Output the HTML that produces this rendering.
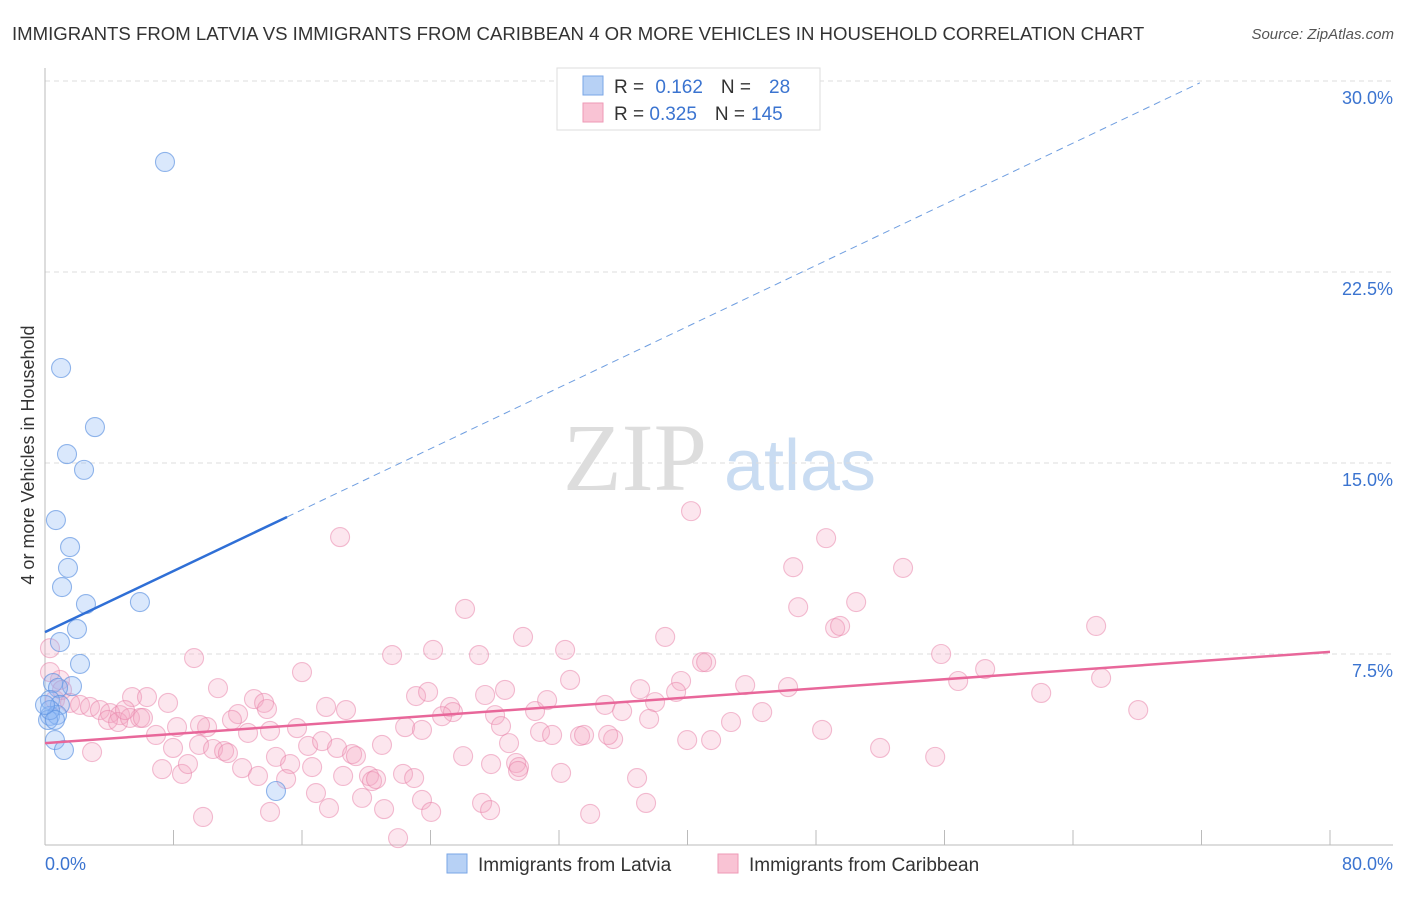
<!DOCTYPE html>
<html><head><meta charset="utf-8"><style>
body{margin:0;background:#fff;font-family:"Liberation Sans",sans-serif}
svg text{font-family:"Liberation Sans",sans-serif}
</style></head><body>
<svg id="c" width="1406" height="892" xmlns="http://www.w3.org/2000/svg">
<text x="12" y="40" font-size="18.6" fill="#333">IMMIGRANTS FROM LATVIA VS IMMIGRANTS FROM CARIBBEAN 4 OR MORE VEHICLES IN HOUSEHOLD CORRELATION CHART</text>
<text x="1394" y="39" font-size="15" fill="#555" font-style="italic" text-anchor="end">Source: ZipAtlas.com</text>
<g>
<text x="635" y="490" font-size="96" fill="#ddd" text-anchor="middle" font-family="Liberation Serif" style="font-family:'Liberation Serif',serif">ZIP</text>
<text x="800" y="490" font-size="72" fill="#c9dcf2" text-anchor="middle">atlas</text>
</g>
<g id="grid"></g><g id="axes"></g><g id="pts"></g><g id="lines"></g>
<g>
<rect x="557" y="68" width="263" height="62" fill="#fff" stroke="#ddd"/>
<rect x="583" y="76" width="20" height="19" fill="#b7d1f5" stroke="#7aa6e6"/>
<rect x="583" y="103" width="20" height="19" fill="#f9c3d4" stroke="#ee9ab6"/>
<text x="614" y="93" font-size="19" fill="#333">R = <tspan fill="#3b74d0" dx="6">0.162</tspan><tspan dx="18" fill="#333">N =</tspan><tspan dx="18" fill="#3b74d0">28</tspan></text>
<text x="614" y="120" font-size="19" fill="#333">R = <tspan fill="#3b74d0">0.325</tspan><tspan dx="18" fill="#333">N =</tspan><tspan dx="6" fill="#3b74d0">145</tspan></text>
</g>
<g>
<rect x="447" y="854" width="20" height="19" fill="#b7d1f5" stroke="#7aa6e6"/>
<text x="478" y="871" font-size="19" fill="#333">Immigrants from Latvia</text>
<rect x="718" y="854" width="20" height="19" fill="#f9c3d4" stroke="#ee9ab6"/>
<text x="749" y="871" font-size="19" fill="#333">Immigrants from Caribbean</text>
</g>
<text transform="translate(34,455) rotate(-90)" font-size="18" fill="#333" text-anchor="middle">4 or more Vehicles in Household</text>
</svg>
<script>
const yTicks=[7.5,15,22.5,30];
const yTickLabels=["7.5%","15.0%","22.5%","30.0%"];
const xTicks=[0,8,16,24,32,40,48,56,64,72,80];
const latviaX=[7.47,1.00,3.11,1.37,2.43,0.68,1.56,1.43,1.06,2.55,5.91,1.99,0.93,2.18,0.50,1.68,0.81,0.31,0.93,0.31,0.75,0.19,0.62,1.18,14.38,0.31,0.62,0.0];
const latviaY=[26.82,18.73,16.41,15.35,14.73,12.76,11.70,10.88,10.13,9.46,9.54,8.48,7.97,7.11,6.36,6.24,6.17,5.69,5.50,5.07,5.11,4.91,4.12,3.73,2.12,5.30,4.91,5.5];
const caribX=[18.37,40.22,48.63,46.58,53.42,26.15,46.89,50.50,49.19,49.50,65.44,29.76,38.61,9.28,21.61,24.16,27.02,32.38,40.91,41.16,55.79,58.53,16.00,10.77,5.42,6.35,7.66,12.02,13.01,13.64,13.82,17.50,18.74,23.10,23.85,25.22,25.40,27.40,28.64,28.02,30.51,31.26,32.69,34.87,35.93,37.05,37.98,39.60,39.29,43.59,46.26,56.85,62.02,65.75,68.06,0.93,0.62,1.06,1.56,2.18,2.80,3.42,4.05,4.67,3.92,4.55,5.29,5.92,4.98,6.10,8.22,6.91,7.97,9.59,10.09,10.46,11.15,11.39,11.64,12.64,14.01,14.38,15.26,15.69,16.38,16.63,17.25,18.18,19.12,19.36,20.98,22.42,23.47,24.72,26.03,28.39,28.89,29.33,29.51,30.82,31.57,33.31,33.56,35.37,35.06,37.61,39.98,41.47,42.71,44.65,48.38,51.99,55.42,7.29,8.53,8.90,12.27,13.26,15.01,16.87,18.56,20.17,20.36,20.61,22.29,22.98,27.77,29.45,32.13,36.86,37.42,17.68,19.74,21.11,23.47,27.21,27.71,9.84,14.01,24.04,33.94,21.98,2.93,0.31,0.31,9.65];
const caribY=[12.09,13.11,12.05,10.91,10.88,9.27,9.34,9.54,8.52,8.60,8.60,8.17,8.17,7.34,7.46,7.66,7.46,7.66,7.18,7.18,7.50,6.91,6.79,6.16,5.81,5.81,5.58,5.14,5.73,5.58,5.34,5.42,5.30,5.85,6.01,5.42,5.22,5.89,6.09,5.10,5.26,5.69,6.48,5.50,5.26,6.12,5.61,6.44,6.01,6.28,6.20,6.44,5.97,6.56,5.30,6.48,5.69,6.09,5.58,5.50,5.42,5.30,5.18,5.10,4.91,4.83,4.99,4.99,5.30,4.99,4.63,4.32,3.81,3.93,4.63,3.77,3.69,3.61,4.91,4.40,4.48,3.46,3.18,4.59,3.89,3.06,4.08,3.81,3.57,3.49,3.93,4.63,4.52,5.06,3.49,4.67,4.00,3.22,3.06,4.44,4.32,4.28,4.32,4.16,4.32,4.95,4.12,4.12,4.83,5.22,4.52,3.81,3.46,2.98,2.79,3.18,3.02,2.71,2.59,2.04,2.71,2.71,2.51,2.59,2.79,2.63,3.18,2.91,2.83,2.63,1.65,1.45,1.85,1.41,1.77,1.65,1.37,1.10,1.30,1.30,1.22,0.27,3.65,7.73,6.79,4.71];
const latviaTrend=[8.36,0.30];   // intercept, slope
const caribTrend=[4.0,0.0448];

const NS="http://www.w3.org/2000/svg";
const X=v=>45+v/80*1285, Y=v=>845-v/7.5*191;
function mk(t,a,p){const e=document.createElementNS(NS,t);for(const k in a)e.setAttribute(k,a[k]);document.getElementById(p).appendChild(e);return e;}
yTicks.forEach((t,i)=>{
 const g=mk('line',{x1:45,x2:1393,y1:Y(t),y2:Y(t),stroke:'#ddd','stroke-dasharray':'5,4'},'grid');
 
 
 const l=mk('text',{x:1393,y:Y(t)+23,'font-size':18,fill:'#3b74d0','text-anchor':'end'},'grid');
 l.textContent=yTickLabels[i];
 
 
});
const ax=mk('line',{x1:45,x2:45,y1:68,y2:845,stroke:'#bbb'},'axes');


const bx=mk('line',{x1:45,x2:1393,y1:845,y2:845,stroke:'#bbb'},'axes');


xTicks.forEach(t=>{const k=mk('line',{x1:X(t),x2:X(t),y1:830,y2:845,stroke:'#bbb'},'axes');
 
 });
const xl0=mk('text',{x:45,y:870,'font-size':18,fill:'#3b74d0'},'axes');xl0.textContent='0.0%';


const xl1=mk('text',{x:1393,y:870,'font-size':18,fill:'#3b74d0','text-anchor':'end'},'axes');xl1.textContent='80.0%';


caribX.forEach((v,i)=>{const c=mk('circle',{cx:X(v),cy:Y(caribY[i]),r:9.5,fill:'rgba(246,165,195,0.28)',stroke:'rgba(232,125,165,0.5)','stroke-width':1.1},'pts');
 
 });
latviaX.forEach((v,i)=>{const c=mk('circle',{cx:X(v),cy:Y(latviaY[i]),r:9.5,fill:'rgba(140,185,245,0.32)',stroke:'rgba(90,145,225,0.65)','stroke-width':1.1},'pts');
 
 });
const lt=x=>latviaTrend[0]+latviaTrend[1]*x, ct=x=>caribTrend[0]+caribTrend[1]*x;
const l1=mk('line',{x1:X(0),y1:Y(lt(0)),x2:X(15.07),y2:Y(lt(15.07)),stroke:'#2f6fd6','stroke-width':2.5},'lines');


const l2=mk('line',{x1:X(15.07),y1:Y(lt(15.07)),x2:X(71.9),y2:Y(lt(71.9)),stroke:'#6f9ee0','stroke-width':1,'stroke-dasharray':'7,5'},'lines');


const l3=mk('line',{x1:X(0),y1:Y(ct(0)),x2:X(80),y2:Y(ct(80)),stroke:'#e8679a','stroke-width':2.5},'lines');


</script>
</body></html>
